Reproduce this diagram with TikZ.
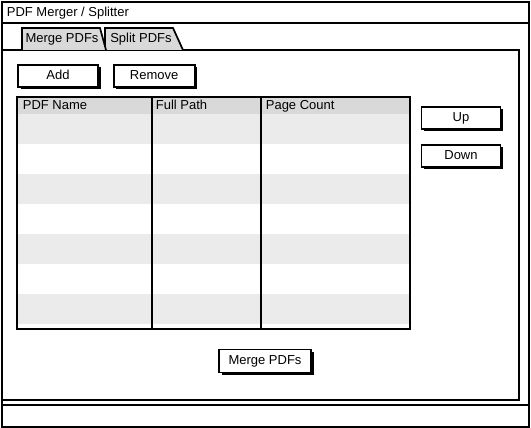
\documentclass[tikz,border=0pt]{standalone}
\usepackage{fontspec}
\setmainfont{Liberation Sans}
\usetikzlibrary{positioning,shadows}
\newcommand\uifont{\fontsize{13}{15}\selectfont}
\begin{document}
\begin{tikzpicture}[x=1pt, y=-1pt, line width=1.7pt, font=\uifont,
  btn/.style={draw, fill=white, inner sep=0pt, minimum height=22pt,
    text height=9.5pt, text depth=2.5pt,
    drop shadow={shadow xshift=2.5pt, shadow yshift=-2.5pt, fill=black, opacity=1}},
  lbl/.style={anchor=base west, inner sep=0pt},
  tablbl/.style={anchor=base, inner sep=0pt},
  tabshape/.style={draw, fill=gray!30}]

\newcommand\rowh{30};

\useasboundingbox (0,0) rectangle (531,428); %% spacing

%% window frame, title bar, panel, status bar
\draw (2,2) rectangle (529,427);
\draw (2,23) -- (529,23);
\node[lbl] (title) at (6,17) {PDF Merger / Splitter};
\draw (2,50) rectangle (519,400);
\draw (2,405) rectangle (529,427);

%% tabs
\draw[tabshape] (105,50) -- (105,28) -- (173,28) -- (183,50);
\draw[tabshape] (22,50) -- (22,28) -- (100,28) -- (106,50);
\node[tablbl] (tabmerge) at (62,43) {Merge PDFs};
\node[tablbl] (tabsplit) at (141,43) {Split PDFs};

%% buttons
\node[btn, minimum width=80pt] (add) at (58,76) {Add};
\node[btn, minimum width=81pt, right=14pt of add] (remove) {Remove};
\node[btn, minimum width=79pt] (up) at (461,118) {Up};
\node[btn, minimum width=79pt, below=14pt of up] (down) {Down};
\node[btn, minimum width=92pt, minimum height=23pt] (merge) at (265,361) {Merge PDFs};

%% table
\fill[gray!30] (17,97) rectangle (410,114);
\foreach \k in {0,...,3}
  \fill[gray!16] (17,114+2*\rowh*\k) rectangle (410,114+\rowh+2*\rowh*\k);
\draw (17,97) rectangle (410,329);
\draw (152,97) -- (152,329);
\draw (261,97) -- (261,329);
\node[lbl] (hname) at (22,110) {PDF Name};
\node[lbl] (hpath) at (155,110) {Full Path};
\node[lbl] (hcount) at (265,110) {Page Count};

\end{tikzpicture}
\end{document}
